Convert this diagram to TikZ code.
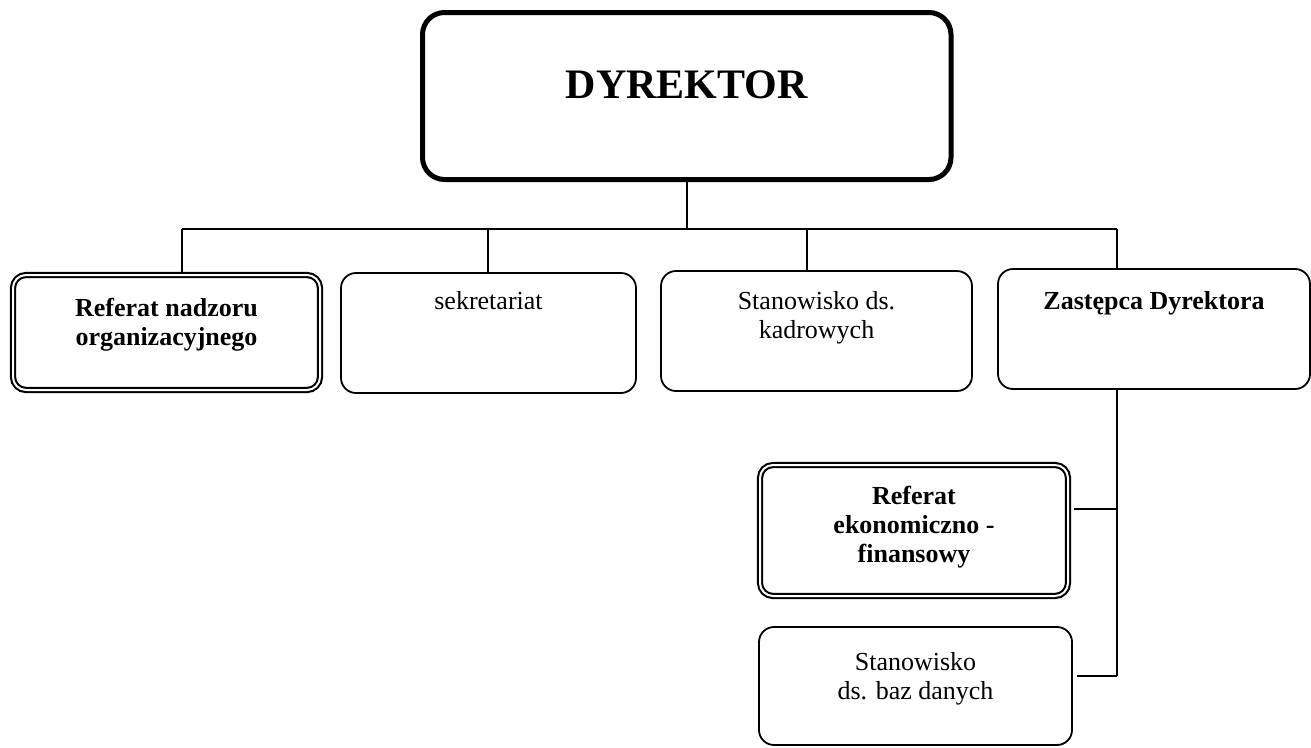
\documentclass[tikz,border=0pt]{standalone}
\usepackage{fontspec}
\setmainfont{Liberation Serif}
\usetikzlibrary{positioning}

\begin{document}
\begin{tikzpicture}[x=1pt,y=-1pt,
    unit/.style={draw,line width=1.8pt,rounded corners=15pt,inner sep=0pt},
    dunit/.style={unit,double,line width=2.1pt,double distance=2pt,rounded corners=13pt},
    txt/.style={inner sep=0pt,align=center,font=\fontsize{26}{29}\selectfont},
    btxt/.style={txt,font=\fontsize{26}{29}\selectfont\bfseries},
    link/.style={line width=1.5pt}]
    \useasboundingbox (0,0) rectangle (1311,747);

    \node[unit,line width=5pt,rounded corners=22pt,minimum width=528.5pt,minimum height=167pt] (dyr) at (686.75,96) {};
    \node[dunit,minimum width=307pt,minimum height=115pt] (ref1) at (166.5,332.5) {};
    \node[unit,minimum width=295pt,minimum height=120pt] (sek) at (488.5,333) {};
    \node[unit,minimum width=311pt,minimum height=120pt] (kadr) at (816.5,331) {};
    \node[unit,minimum width=312pt,minimum height=120pt] (zast) at (1154,329) {};
    \node[dunit,minimum width=308pt,minimum height=131pt] (ref2) at (914,530.5) {};
    \node[unit,minimum width=313pt,minimum height=118pt] (baz) at (915.5,686) {};

    \node[inner sep=0pt,font=\fontsize{42}{48}\selectfont\bfseries] (tdyr) [below=60pt of dyr.north] {DYREKTOR};
    \node[btxt] (tref1) [below=24pt of ref1.north] {Referat nadzoru\\organizacyjnego};
    \node[txt] (tsek) [below=19pt of sek.north] {sekretariat};
    \node[txt] (tkadr) [below=21pt of kadr.north] {Stanowisko ds.\\kadrowych};
    \node[btxt] (tzast) [below=23pt of zast.north] {Zastępca Dyrektora};
    \node[btxt] (tref2) [below=22pt of ref2.north] {Referat\\ekonomiczno -\\finansowy};
    \node[txt] (tbaz) [below=26pt of baz.north] {Stanowisko\\ds. baz danych};

    \coordinate (b1) at (182,229);
    \coordinate (b2) at (488,229);
    \coordinate (b3) at (807,229);
    \coordinate (b4) at (1117,229);
    \coordinate (s5) at (1117,509);
    \coordinate (s6) at (1117,676);

    \draw[link] (dyr.south) -- (dyr.south |- b1);
    \draw[link] (b1) -- (b4);
    \draw[link] (b1) -- (b1 |- ref1.north);
    \draw[link] (b2) -- (b2 |- sek.north);
    \draw[link] (b3) -- (b3 |- kadr.north);
    \draw[link] (b4) -- (b4 |- zast.north);
    \draw[link] (zast.south -| s6) -- (s6);
    \draw[link,shorten >=5pt] (s5) -- (s5 -| ref2.east);
    \draw[link,shorten >=4pt] (s6) -- (s6 -| baz.east);
\end{tikzpicture}
\end{document}
